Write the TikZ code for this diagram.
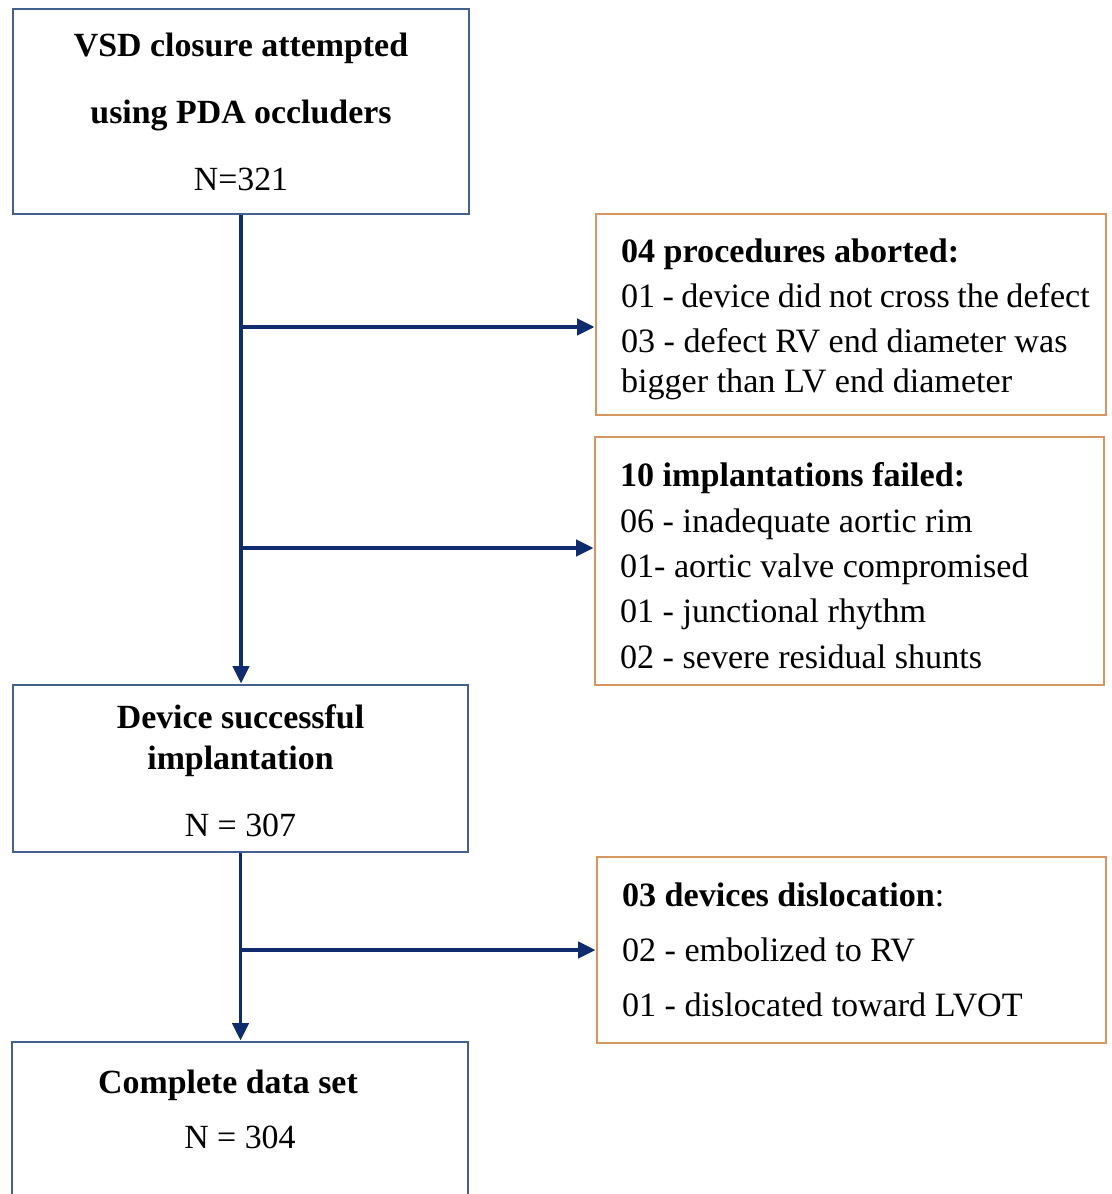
\documentclass[tikz,border=0pt]{standalone}
\usepackage{fontspec}
\setmainfont{Liberation Serif}
\usetikzlibrary{arrows.meta}

\definecolor{navy}{RGB}{15,45,110}
\definecolor{boxblue}{RGB}{68,96,140}
\definecolor{boxorange}{RGB}{215,150,95}
\newlength\pxu
\setlength\pxu{0.75pt}

\begin{document}
\begin{tikzpicture}[x=0.75pt,y=-0.75pt,
	mainbox/.style={draw=boxblue, line width=2.2pt, align=center, inner sep=0pt},
	notebox/.style={draw=boxorange, line width=2.2pt, align=flush left, inner xsep=25\pxu, inner ysep=0pt, font=\fontsize{25.6}{34}\selectfont},
	flow/.style={draw=navy, line width=2.8pt, -{Triangle[length=13pt,width=12pt]}}]
\useasboundingbox (0,0) rectangle (1112,1194);
\clip (0,0) rectangle (1112,1194);

\node[mainbox, minimum width=456\pxu, minimum height=205\pxu, font=\fontsize{25.4}{50.25}\selectfont] (start) at (241,111.5) {\textbf{VSD closure attempted}\\\textbf{using PDA occluders}\\N=321};
\node[mainbox, minimum width=455\pxu, minimum height=167\pxu, font=\fontsize{25.4}{30.75}\selectfont] (implant) at (240.5,768.5) {\rule{0pt}{21.75pt}\textbf{Device successful}\\\textbf{implantation}\\[19.5pt]N = 307};
\node[mainbox, minimum width=456\pxu, minimum height=188\pxu, font=\fontsize{25.4}{41.25}\selectfont] (final) at (240,1136) {\textbf{Complete data set}\hspace*{18pt}\\N = 304\rule[-40pt]{0pt}{40pt}};

\node[notebox, minimum width=510\pxu, minimum height=201\pxu, text width=460\pxu] (abort) at (851,314.5) {\rule{0pt}{25pt}\textbf{04 procedures aborted:}\\\mbox{\spaceskip=5.55pt 01 - device did not cross the defect}\\03 - defect RV end diameter was\\[-3.8pt]bigger than LV end diameter};
\node[notebox, minimum width=509\pxu, minimum height=248\pxu, text width=459\pxu] (fail) at (849.5,561) {\rule{0pt}{25pt}\textbf{10 implantations failed:}\\06 - inadequate aortic rim\\01- aortic valve compromised\\01 - junctional rhythm\\02 - severe residual shunts};
\node[notebox, minimum width=509\pxu, minimum height=186\pxu, text width=459\pxu, font=\fontsize{25.6}{41.25}\selectfont] (disloc) at (851.5,950) {\textbf{03 devices dislocation}:\\02 - embolized to RV\\01 - dislocated toward LVOT};

\coordinate (j1) at (241,327);
\coordinate (j2) at (241,548);
\coordinate (j3) at (implant.south |- disloc.west);

\draw[flow] (start.south) -- (start.south |- implant.north);
\draw[flow] (j1) -- (j1 -| abort.west);
\draw[flow] (j2) -- (j2 -| fail.west);
\draw[flow] (implant.south) -- (implant.south |- final.north);
\draw[flow] (j3) -- (disloc.west);
\end{tikzpicture}
\end{document}
